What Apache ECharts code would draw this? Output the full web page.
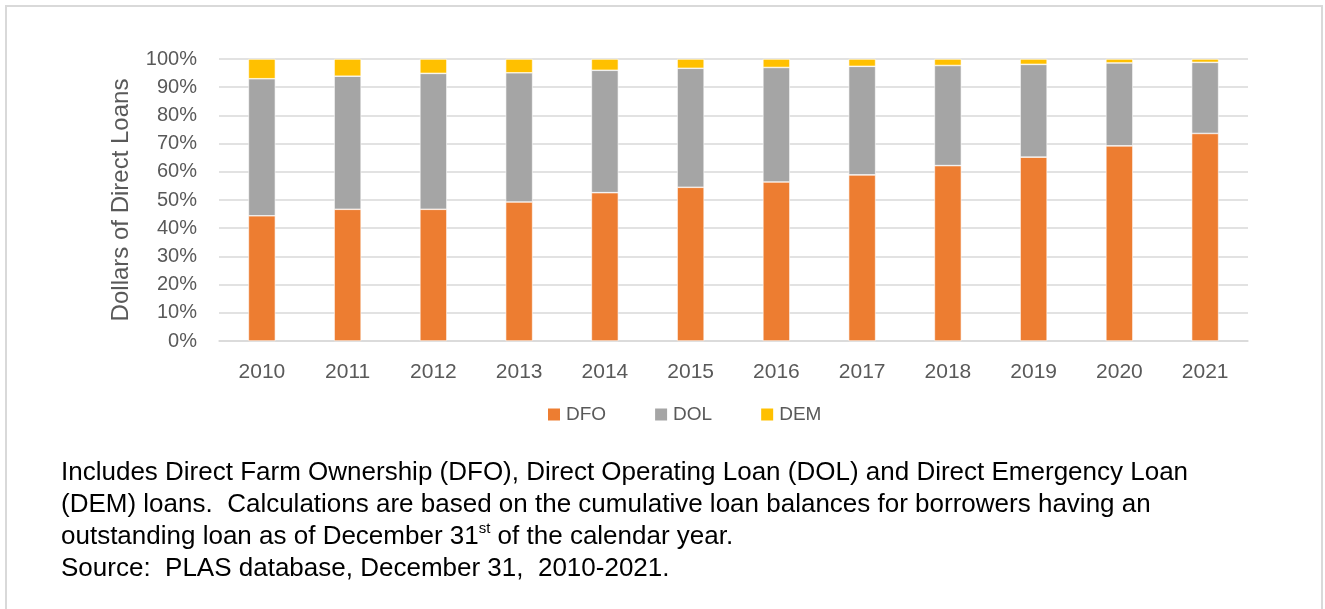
<!DOCTYPE html>
<html>
<head>
<meta charset="utf-8">
<script src="https://cdn.jsdelivr.net/npm/echarts@6/dist/echarts.min.js"></script>
<style>
html, body { margin: 0; padding: 0; background: #fff; }
#main { width: 1325px; height: 609px; }
</style>
</head>
<body>
<div id="main"></div>
<script>
var years = ['2010', '2011', '2012', '2013', '2014', '2015', '2016', '2017', '2018', '2019', '2020', '2021'];
var dfo = [44.4, 46.7, 46.7, 49.3, 52.6, 54.5, 56.4, 58.9, 62.2, 65.2, 69.2, 73.6];
var dol = [48.6, 47.2, 48.2, 45.8, 43.4, 42.2, 40.6, 38.5, 35.5, 32.9, 29.4, 25.2];
var dem = [7.0, 6.1, 5.1, 4.9, 4.0, 3.3, 3.0, 2.6, 2.3, 1.9, 1.4, 1.2];

var font = 'Liberation Sans';
var dom = document.getElementById('main');
var myChart = echarts.init(dom);

function bar(name, data, color) {
	return {
		name: name,
		type: 'bar',
		stack: 'total',
		barWidth: 27,
		data: data,
		itemStyle: { color: color, borderColor: '#ffffff', borderWidth: 0.6 }
	};
}

var option = {
	animation: false,
	textStyle: { fontFamily: font },
	grid: { left: 219, right: 77, top: 59, bottom: 268 },
	legend: {
		left: 541,
		top: 400,
		itemWidth: 14,
		itemHeight: 14,
		itemGap: 47,
		icon: 'rect',
		textStyle: { fontSize: 19, color: '#595959', fontFamily: font },
		data: ['DFO', 'DOL', 'DEM']
	},
	xAxis: {
		type: 'category',
		data: years,
		axisLine: { lineStyle: { color: '#d9d9d9', width: 1.5 } },
		axisTick: { show: false },
		axisLabel: { fontSize: 21, color: '#595959', margin: 21 }
	},
	yAxis: {
		type: 'value',
		min: 0,
		max: 100,
		interval: 10,
		name: 'Dollars of Direct Loans',
		nameLocation: 'middle',
		nameGap: 86,
		nameTextStyle: { fontSize: 24, color: '#595959' },
		axisLine: { show: false },
		axisTick: { show: false },
		axisLabel: { fontSize: 20, color: '#595959', margin: 22, formatter: '{value}%' },
		splitLine: { lineStyle: { color: '#d9d9d9', width: 1.5 } }
	},
	graphic: [
		{
			type: 'rect',
			shape: { x: 6, y: 6, width: 1316, height: 610 },
			style: { fill: 'none', stroke: '#d9d9d9', lineWidth: 2 },
			silent: true
		},
		{
			type: 'text',
			left: 61,
			top: 457,
			style: {
				text: 'Includes Direct Farm Ownership (DFO), Direct Operating Loan (DOL) and Direct Emergency Loan\n' +
					'(DEM) loans.  Calculations are based on the cumulative loan balances for borrowers having an\n' +
					'outstanding loan as of December 31{sup|st} of the calendar year.\n' +
					'Source:  PLAS database, December 31,  2010-2021.',
				fontFamily: font,
				fontSize: 26,
				lineHeight: 32,
				fill: '#000000',
				rich: {
					sup: { fontSize: 15, verticalAlign: 'top', lineHeight: 26, fontFamily: font }
				}
			}
		}
	],
	series: [
		bar('DFO', dfo, '#ed7d31'),
		bar('DOL', dol, '#a5a5a5'),
		bar('DEM', dem, '#ffc000')
	]
};
myChart.setOption(option);
</script>
</body>
</html>
